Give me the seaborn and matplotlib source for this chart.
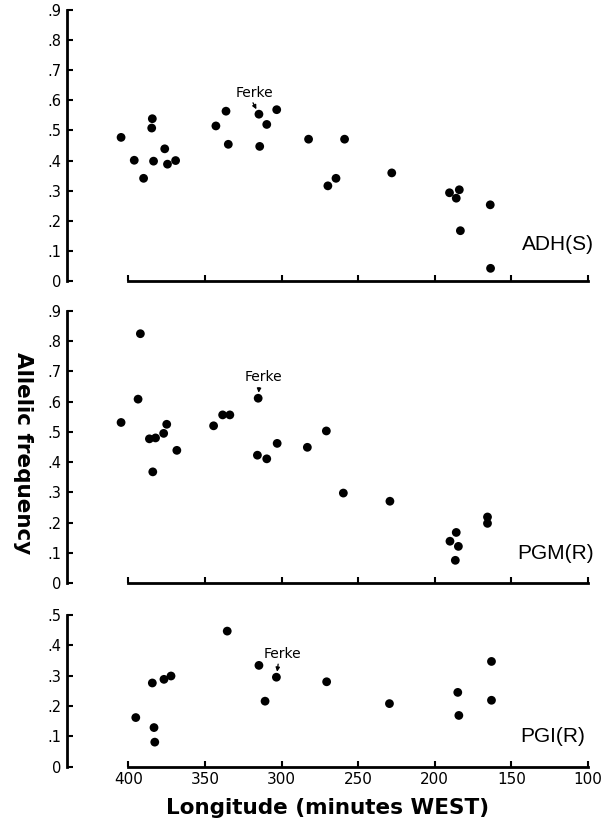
import matplotlib
matplotlib.use("Agg")
import matplotlib.pyplot as plt
import seaborn as sns
import pandas as pd

# longitude (minutes west) and allelic frequency
adh_lon = [404.8, 396.2, 390.1, 384.4, 384.8, 383.6, 376.3, 374.5, 369.2,
           342.9, 336.3, 334.8, 314.8, 314.3, 309.7, 303.2,
           282.4, 269.8, 264.5, 258.9, 228.1,
           190.4, 186.0, 184.0, 183.3, 163.8, 163.6]
adh_freq = [0.477, 0.401, 0.341, 0.539, 0.508, 0.398, 0.439, 0.388, 0.400,
            0.515, 0.564, 0.454, 0.554, 0.447, 0.520, 0.569,
            0.471, 0.316, 0.341, 0.471, 0.359,
            0.293, 0.275, 0.303, 0.167, 0.253, 0.042]

pgm_lon = [404.8, 392.2, 393.7, 386.3, 382.3, 384.1, 377.0, 375.0, 368.4,
           344.4, 338.5, 333.8, 315.3, 315.8, 309.7, 302.9,
           283.2, 270.8, 259.7, 229.3,
           190.1, 186.0, 184.6, 186.6, 165.6, 165.6]
pgm_freq = [0.531, 0.824, 0.608, 0.477, 0.480, 0.368, 0.495, 0.525, 0.439,
            0.520, 0.556, 0.556, 0.611, 0.423, 0.411, 0.462,
            0.449, 0.503, 0.298, 0.271,
            0.139, 0.168, 0.122, 0.076, 0.219, 0.198]

pgi_lon = [395.2, 384.4, 383.3, 382.8, 376.8, 372.2, 335.5, 314.8, 310.8,
           303.4, 270.6, 229.6, 185.0, 184.3, 163.0, 163.0]
pgi_freq = [0.162, 0.276, 0.129, 0.081, 0.288, 0.299, 0.447, 0.334, 0.216,
            0.295, 0.280, 0.208, 0.245, 0.169, 0.347, 0.219]

# Ferke point in each panel
ferke_adh = (314.8, 0.554)
ferke_pgm = (315.3, 0.611)
ferke_pgi = (303.4, 0.295)

x_ticks = [400, 350, 300, 250, 200, 150, 100]
y_ticks_9 = [0, .1, .2, .3, .4, .5, .6, .7, .8, .9]
y_ticks_5 = [0, .1, .2, .3, .4, .5]


def tick_text(v):
    return "0" if v == 0 else ("%.1f" % v)[1:]


sns.set_style("ticks")
plt.rcParams["font.family"] = ["DejaVu Sans"]
for k in ["text.color", "axes.labelcolor", "xtick.color", "ytick.color",
          "axes.edgecolor"]:
    plt.rcParams[k] = "black"

fig = plt.figure(figsize=(6.03, 8.23), dpi=100)
ax1 = fig.add_axes([0.1106, 0.6586, 0.8645, 0.3292])
ax2 = fig.add_axes([0.1106, 0.2912, 0.8645, 0.3313])
ax3 = fig.add_axes([0.1106, 0.0684, 0.8645, 0.1843])

panels = [
    (ax1, adh_lon, adh_freq, y_ticks_9, "ADH(S)", ferke_adh, (317.8, 0.626), 96, 0.12),
    (ax2, pgm_lon, pgm_freq, y_ticks_9, "PGM(R)", ferke_pgm, (312.0, 0.680), 96, 0.10),
    (ax3, pgi_lon, pgi_freq, y_ticks_5, "PGI(R)", ferke_pgi, (299.4, 0.372), 102, 0.10),
]

for ax, lon, freq, yt, label, ferke, ferke_txt, lab_x, lab_y in panels:
    df = pd.DataFrame({"lon": lon, "freq": freq})
    sns.scatterplot(data=df, x="lon", y="freq", ax=ax, color="black",
                    s=40, edgecolor="none", linewidth=0)
    ax.set_xlim(440.3, 100)
    ax.set_ylim(0, yt[-1])
    ax.set_xticks(x_ticks)
    ax.set_yticks(yt)
    ax.set_yticklabels([tick_text(v) for v in yt], fontsize=10.5)
    ax.set_xlabel("")
    ax.set_ylabel("")
    for s in ["top", "right"]:
        ax.spines[s].set_visible(False)
    ax.spines["left"].set_bounds(0, yt[-1])
    ax.spines["bottom"].set_bounds(400, 100)
    ax.spines["left"].set_linewidth(2)
    ax.spines["bottom"].set_linewidth(2)
    ax.tick_params(axis="both", direction="in", length=4, width=1.5, pad=4)
    ax.text(lab_x, lab_y, label, ha="right", va="center", fontsize=15,
            family=["Liberation Sans", "DejaVu Sans"])
    ax.annotate("Ferke", xy=ferke, xytext=ferke_txt, ha="center", va="center",
                fontsize=10,
                arrowprops=dict(arrowstyle="-|>", color="black", lw=0.9,
                                mutation_scale=6, shrinkA=0, shrinkB=4,
                                relpos=(0.4, 0.1)))
    ax.patch.set_alpha(0)

ax1.set_xticklabels([])
ax2.set_xticklabels([])
ax3.set_xticklabels([str(v) for v in x_ticks], fontsize=11)

ax3.set_xlabel("Longitude (minutes WEST)", fontsize=15.5, fontweight="bold",
               labelpad=8)
fig.text(0.038, 0.45, "Allelic frequency", rotation=270, ha="center",
         va="center", fontsize=15.5, fontweight="bold")

fig.savefig("out.png", dpi=100)
